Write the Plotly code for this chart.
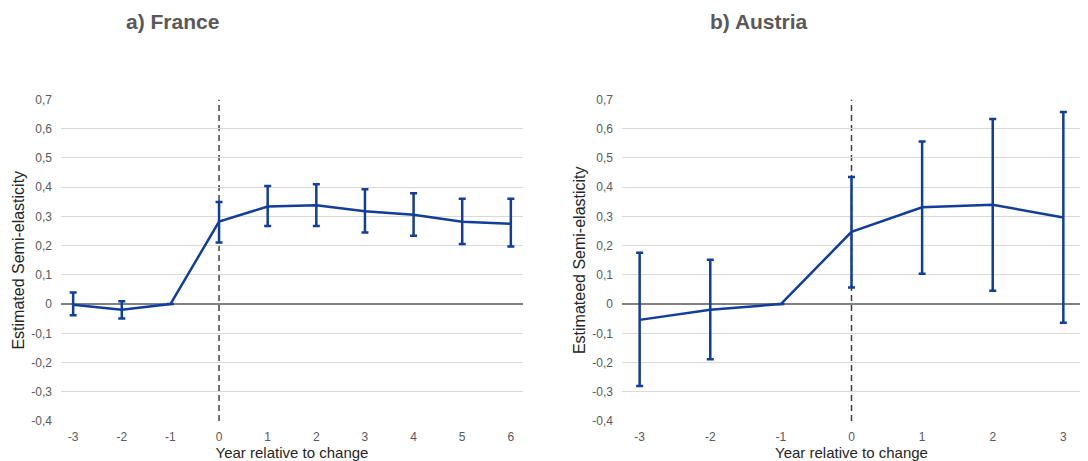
import plotly.graph_objects as go

# ---- data ----
fr_years = [-3, -2, -1, 0, 1, 2, 3, 4, 5, 6]
fr_est = [-0.002, -0.019, 0.0, 0.282, 0.334, 0.338, 0.318, 0.306, 0.282, 0.275]
fr_upper = [0.040, 0.010, None, 0.349, 0.404, 0.410, 0.393, 0.379, 0.360, 0.360]
fr_lower = [-0.038, -0.049, None, 0.211, 0.267, 0.267, 0.245, 0.234, 0.206, 0.197]

at_years = [-3, -2, -1, 0, 1, 2, 3]
at_est = [-0.054, -0.019, 0.0, 0.247, 0.331, 0.340, 0.296]
at_upper = [0.176, 0.152, None, 0.435, 0.556, 0.633, 0.657]
at_lower = [-0.280, -0.189, None, 0.057, 0.104, 0.046, -0.064]

y_tickvals = [0.7, 0.6, 0.5, 0.4, 0.3, 0.2, 0.1, 0.0, -0.1, -0.2, -0.3, -0.4]
y_ticktext = ["0,7", "0,6", "0,5", "0,4", "0,3", "0,2", "0,1", "0", "-0,1", "-0,2", "-0,3", "-0,4"]

titles = ["a) France", "b) Austria"]
y_titles = ["Estimated Semi-elasticity", "Estimateed Semi-elasticity"]
x_title = "Year relative to change"

BLUE = "#113d9c"
# the page adds an 8px body margin at top/left
OFF = 8
W, H = 1088 - OFF, 461 - OFF


def px(x):
    return (x - OFF) / W


def py(y):
    return 1 - (y - OFF) / H


def plus(est, up):
    return [None if u is None else u - e for e, u in zip(est, up)]


def minus(est, lo):
    return [None if l is None else e - l for e, l in zip(est, lo)]


fig = go.Figure()
for i, (xs, est, up, lo) in enumerate([(fr_years, fr_est, fr_upper, fr_lower),
                                        (at_years, at_est, at_upper, at_lower)]):
    suffix = "" if i == 0 else "2"
    fig.add_trace(go.Scatter(
        x=xs, y=est, mode="lines",
        line=dict(color=BLUE, width=2.5),
        error_y=dict(type="data", symmetric=False,
                     array=plus(est, up), arrayminus=minus(est, lo),
                     color=BLUE, thickness=2.5, width=3.5),
        xaxis="x" + suffix, yaxis="y" + suffix, showlegend=False,
    ))

ydom = [py(421), py(99.5)]
xdoms = [[px(61), px(523)], [px(622), px(1081)]]
xranges = [[-3.25, 6.25], [-3.25, 3.25]]
xticks = [fr_years, at_years]

tick_font = dict(family="Liberation Sans, Arial, sans-serif", size=12, color="#595959")
xtitle_font = dict(family="Liberation Sans, Arial, sans-serif", size=15, color="#262626")
ytitle_font = dict(family="Liberation Sans, Arial, sans-serif", size=16, color="#262626")

layout = dict(
    width=W, height=H, autosize=False,
    margin=dict(l=0, r=0, t=0, b=0, pad=0, autoexpand=False),
    paper_bgcolor="white", plot_bgcolor="white",
    showlegend=False,
)
for i in range(2):
    suffix = "" if i == 0 else "2"
    layout["xaxis" + suffix] = dict(
        domain=xdoms[i], range=xranges[i], anchor="y" + suffix,
        tickvals=xticks[i], ticktext=[str(v) for v in xticks[i]],
        showgrid=False, zeroline=False, showline=False, ticks="",
        tickfont=tick_font, automargin=False, ticklabelstandoff=7,
        title=dict(text=x_title, font=xtitle_font, standoff=0),
    )
    layout["yaxis" + suffix] = dict(
        domain=ydom, range=[-0.4, 0.7], anchor="x" + suffix,
        tickvals=y_tickvals, ticktext=y_ticktext,
        showgrid=True, gridcolor="#d9d9d9", gridwidth=1,
        zeroline=True, zerolinecolor="#808080", zerolinewidth=1.5,
        showline=False, ticks="", ticklabelstandoff=8,
        tickfont=tick_font, automargin=False,
        title=dict(text=y_titles[i], font=ytitle_font, standoff=2),
    )
fig.update_layout(**layout)

for i in range(2):
    suffix = "" if i == 0 else "2"
    fig.add_shape(type="line", xref="x" + suffix, yref="y" + suffix,
                  x0=0, x1=0, y0=-0.4, y1=0.7,
                  line=dict(color="#404040", width=1.5, dash="6px,4px"),
                  layer="below")

for i, (t, xc) in enumerate(zip(titles, [172, 759])):
    fig.add_annotation(text="<b>" + t + "</b>", xref="paper", yref="paper",
                       x=px(xc), y=py(21), showarrow=False,
                       xanchor="center", yanchor="middle",
                       font=dict(family="Liberation Sans, Arial, sans-serif",
                                 size=21, color="#595959"))

fig.write_html("out.html")
